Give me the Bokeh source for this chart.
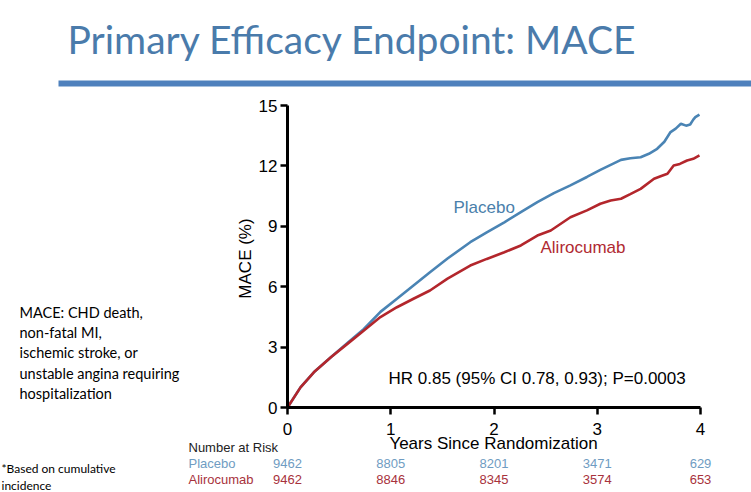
from bokeh.plotting import figure
from bokeh.models import Range1d, FixedTicker, Label, BoxAnnotation, LinearAxis
from bokeh.embed import file_html
from bokeh.resources import INLINE

# ---------------- data ----------------
placebo_t = [0, 0.126, 0.255, 0.42, 0.58, 0.74, 0.9, 1.06, 1.22, 1.38, 1.55, 1.77, 1.93, 2.10,
             2.26, 2.42, 2.58, 2.74, 2.9, 3.03, 3.15, 3.23, 3.32, 3.42, 3.50, 3.58, 3.65, 3.71,
             3.76, 3.81, 3.86, 3.90, 3.93, 3.95, 3.99]
placebo_v = [0, 1.0, 1.75, 2.5, 3.2, 3.9, 4.75, 5.4, 6.06, 6.72, 7.4, 8.21, 8.7, 9.2,
             9.7, 10.2, 10.65, 11.03, 11.45, 11.8, 12.1, 12.3, 12.38, 12.43, 12.6, 12.85, 13.2, 13.68,
             13.85, 14.09, 14.0, 14.06, 14.3, 14.42, 14.55]

aliro_t = [0, 0.126, 0.255, 0.42, 0.58, 0.74, 0.9, 1.06, 1.22, 1.38, 1.55, 1.77, 1.93, 2.10,
           2.26, 2.42, 2.55, 2.74, 2.90, 3.03, 3.13, 3.23, 3.32, 3.42, 3.55, 3.62, 3.68, 3.74,
           3.80, 3.87, 3.93, 3.99]
aliro_v = [0, 1.0, 1.75, 2.5, 3.16, 3.83, 4.49, 4.98, 5.4, 5.81, 6.4, 7.05, 7.38, 7.71,
           8.05, 8.54, 8.79, 9.45, 9.79, 10.12, 10.28, 10.37, 10.6, 10.86, 11.36, 11.5, 11.61, 12.02,
           12.1, 12.27, 12.35, 12.52]

risk_years = [0, 1, 2, 3, 4]
risk_placebo = [9462, 8805, 8201, 3471, 629]
risk_aliro = [9462, 8846, 8345, 3574, 653]

x_ticks = [0, 1, 2, 3, 4]
y_ticks = [0, 3, 6, 9, 12, 15]

title_text = "Primary Efficacy Endpoint: MACE"
note_lines = ["MACE: CHD death,", "non-fatal MI,", "ischemic stroke, or",
              "unstable angina requiring", "hospitalization"]
foot_lines = ["*Based on cumulative", "incidence"]
hr_text = "HR 0.85 (95% CI 0.78, 0.93); P=0.0003"

# ---------------- layout ----------------
W, H = 751, 492
FL, FR, FT, FB = 287, 700, 105, 407   # chart area edges in page pixels
XMAX, YMAX = 4, 15

BLUE = "#4a84b4"
RED = "#b3262c"
ARIAL = "Liberation Sans"
CAL = "Lato"


def dx(px):
    return (px - FL) / (FR - FL) * XMAX


def dy(py):
    return (FB - py) / (FB - FT) * YMAX


p = figure(width=W, height=H, output_backend="svg", toolbar_location=None,
           x_range=Range1d(dx(0), dx(W)), y_range=Range1d(dy(H), dy(0)),
           x_axis_location=None, y_axis_location=None, min_border=0)
p.grid.visible = False
p.outline_line_color = None
p.background_fill_color = "white"
p.border_fill_color = "white"

p.line(placebo_t, placebo_v, line_color=BLUE, line_width=2.6)
p.line(aliro_t, aliro_v, line_color=RED, line_width=2.6)

xax = LinearAxis(fixed_location=0, bounds=(0, XMAX), ticker=FixedTicker(ticks=x_ticks))
yax = LinearAxis(fixed_location=0, bounds=(0, YMAX), ticker=FixedTicker(ticks=y_ticks))
for ax in (xax, yax):
    ax.axis_line_width = 3
    ax.axis_line_color = "black"
    ax.major_tick_line_width = 2.5
    ax.major_tick_line_color = "black"
    ax.major_tick_out = 7
    ax.major_tick_in = 0
    ax.minor_tick_out = 0
    ax.minor_tick_in = 0
    ax.major_label_text_font = ARIAL
    ax.major_label_text_font_size = "17px"
    ax.major_label_text_color = "black"
xax.major_label_standoff = 8
yax.major_label_standoff = 3
p.add_layout(xax, "below")
p.add_layout(yax, "left")


def lab(px, py, text, font, size, color, align="left", angle=0):
    p.add_layout(Label(x=dx(px), y=dy(py), text=text, text_font=font,
                       text_font_size=size, text_color=color, angle=angle,
                       text_align=align, text_baseline="middle"))


# axis titles
lab(493, 443, "Years Since Randomization", ARIAL, "17px", "black", align="center")
lab(245, 258, "MACE (%)", ARIAL, "17px", "black", align="center", angle=1.5708)

# title and rule
lab(67, 38, title_text, CAL, "39px", "#4a7bab")
p.add_layout(BoxAnnotation(left=dx(58), right=dx(760), top=dy(80), bottom=dy(86),
                           fill_color="#4f81bd", fill_alpha=1, line_alpha=0))

# in-plot labels
lab(453, 207, "Placebo", ARIAL, "17px", "#4a80ab")
lab(540, 247, "Alirocumab", ARIAL, "17px", "#b02a32")
lab(388, 378, hr_text, ARIAL, "17px", "black")

# left note
for i, t in enumerate(note_lines):
    lab(19, 312 + i * 20.2, t, CAL, "14.5px", "black")

for i, t in enumerate(foot_lines):
    lab(1, 468 + i * 17, t, CAL, "12px", "black")

# number at risk
lab(188, 447, "Number at Risk", ARIAL, "13px", "#222222")
lab(188, 463, "Placebo", ARIAL, "13px", "#6f9cc2")
lab(188, 479, "Alirocumab", ARIAL, "13px", "#a8323c")
for yr, a, b in zip(risk_years, risk_placebo, risk_aliro):
    p.add_layout(Label(x=yr, y=dy(463), text=str(a), text_font=ARIAL, text_font_size="13px",
                       text_color="#6f9cc2", text_align="center", text_baseline="middle"))
    p.add_layout(Label(x=yr, y=dy(479), text=str(b), text_font=ARIAL, text_font_size="13px",
                       text_color="#a8323c", text_align="center", text_baseline="middle"))

open("out.html", "w").write(file_html(p, INLINE))
